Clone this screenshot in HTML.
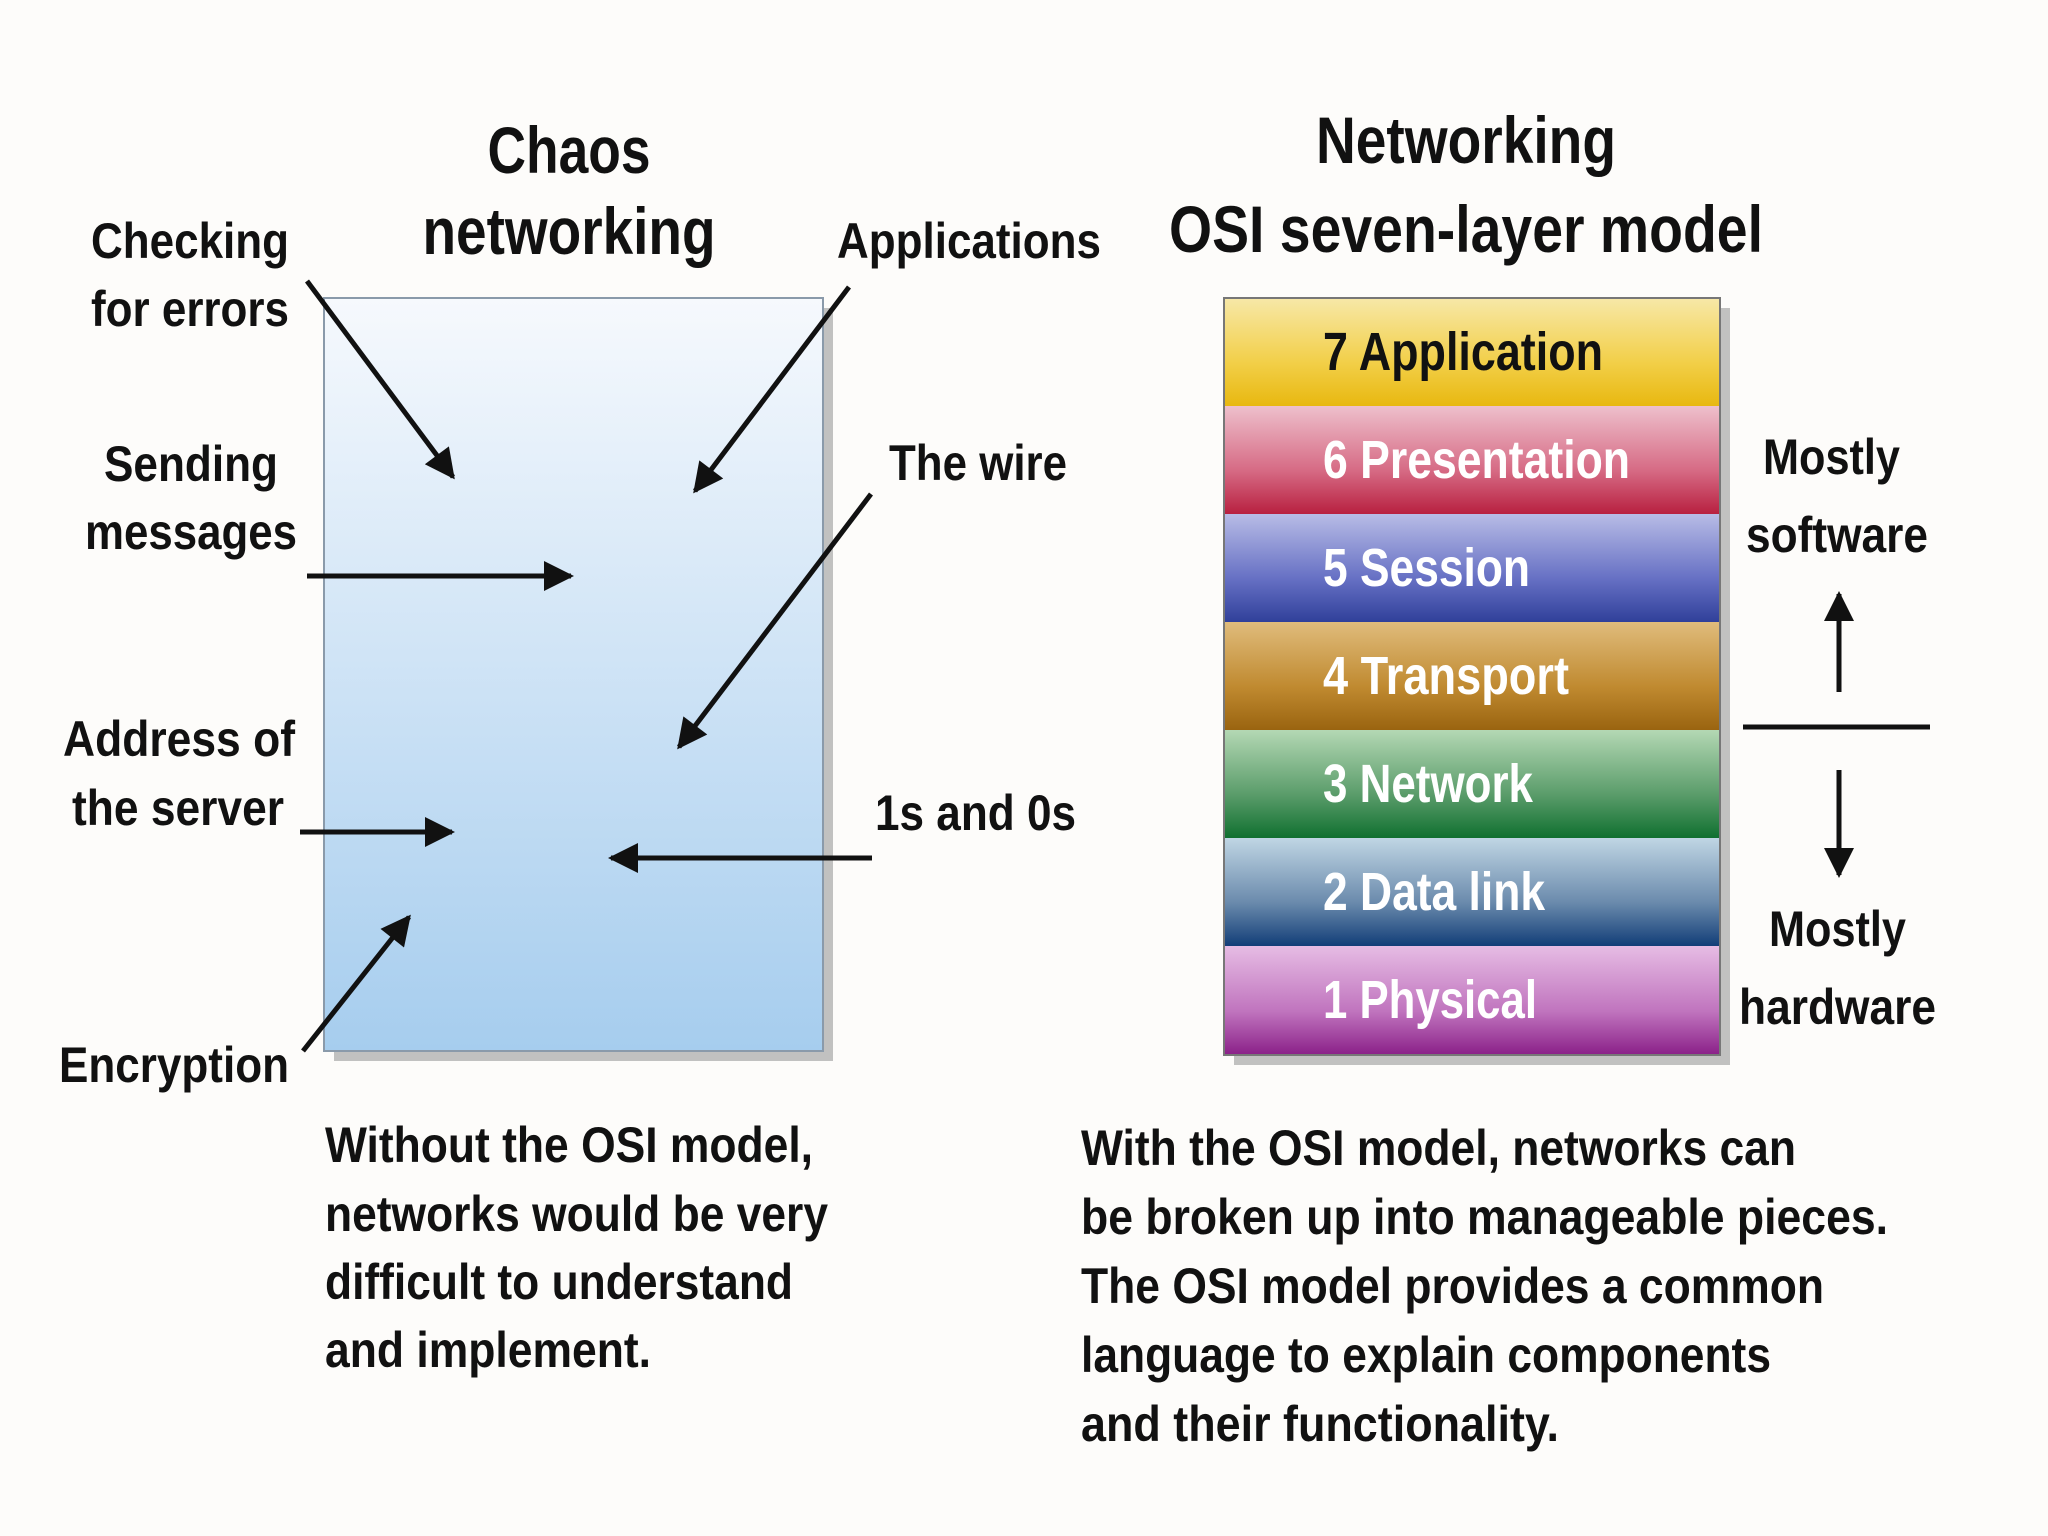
<!DOCTYPE html>
<html><head><meta charset="utf-8"><style>
html,body{margin:0;padding:0;background:#fdfcfa;}
svg{display:block;}
text{font-family:"Liberation Sans Narrow","Liberation Sans",sans-serif;font-weight:bold;fill:#111;}
</style></head><body>
<svg width="2048" height="1536" viewBox="0 0 2048 1536" xmlns="http://www.w3.org/2000/svg">
<defs>
<linearGradient id="box" x1="0" y1="0" x2="0" y2="1"><stop offset="0" stop-color="#f6f9fd"/><stop offset="1" stop-color="#a6cdee"/></linearGradient>
<linearGradient id="g7" x1="0" y1="0" x2="0" y2="1"><stop offset="0" stop-color="#f7e8a8"/><stop offset="0.6" stop-color="#f2cf48"/><stop offset="1" stop-color="#e8b810"/></linearGradient>
<linearGradient id="g6" x1="0" y1="0" x2="0" y2="1"><stop offset="0" stop-color="#eec0cc"/><stop offset="0.6" stop-color="#d66a84"/><stop offset="1" stop-color="#b82040"/></linearGradient>
<linearGradient id="g5" x1="0" y1="0" x2="0" y2="1"><stop offset="0" stop-color="#b8bce6"/><stop offset="0.6" stop-color="#6670c4"/><stop offset="1" stop-color="#30409a"/></linearGradient>
<linearGradient id="g4" x1="0" y1="0" x2="0" y2="1"><stop offset="0" stop-color="#e0bc7c"/><stop offset="0.6" stop-color="#c08a30"/><stop offset="1" stop-color="#9a6410"/></linearGradient>
<linearGradient id="g3" x1="0" y1="0" x2="0" y2="1"><stop offset="0" stop-color="#b4d8b4"/><stop offset="0.6" stop-color="#5a9c6a"/><stop offset="1" stop-color="#107030"/></linearGradient>
<linearGradient id="g2" x1="0" y1="0" x2="0" y2="1"><stop offset="0" stop-color="#c0d6e4"/><stop offset="0.6" stop-color="#6a8aac"/><stop offset="1" stop-color="#123e78"/></linearGradient>
<linearGradient id="g1" x1="0" y1="0" x2="0" y2="1"><stop offset="0" stop-color="#e6bce4"/><stop offset="0.6" stop-color="#c074be"/><stop offset="1" stop-color="#8a2088"/></linearGradient>
<marker id="ah" viewBox="0 0 10 10" refX="9" refY="5" markerWidth="7" markerHeight="6" orient="auto" markerUnits="strokeWidth"><path d="M0,0 L10,5 L0,10 z" fill="#111"/></marker>
</defs>

<rect x="334" y="308" width="499" height="753" fill="#9a9a9a" opacity="0.6"/>
<rect x="324" y="298" width="499" height="753" fill="url(#box)" stroke="#8a9aaa" stroke-width="2"/>

<rect x="1234" y="308" width="496" height="757" fill="#9a9a9a" opacity="0.6"/>
<rect x="1224" y="298" width="496" height="108" fill="url(#g7)"/>
<rect x="1224" y="406" width="496" height="108" fill="url(#g6)"/>
<rect x="1224" y="514" width="496" height="108" fill="url(#g5)"/>
<rect x="1224" y="622" width="496" height="108" fill="url(#g4)"/>
<rect x="1224" y="730" width="496" height="108" fill="url(#g3)"/>
<rect x="1224" y="838" width="496" height="108" fill="url(#g2)"/>
<rect x="1224" y="946" width="496" height="109" fill="url(#g1)"/>
<rect x="1224" y="298" width="496" height="757" fill="none" stroke="#777" stroke-width="2"/>

<g font-size="54">
<text x="1323" y="370" textLength="280" lengthAdjust="spacingAndGlyphs">7 Application</text>
<text x="1323" y="478" textLength="307" lengthAdjust="spacingAndGlyphs" style="fill:#fff">6 Presentation</text>
<text x="1323" y="586" textLength="207" lengthAdjust="spacingAndGlyphs" style="fill:#fff">5 Session</text>
<text x="1323" y="694" textLength="246" lengthAdjust="spacingAndGlyphs" style="fill:#fff">4 Transport</text>
<text x="1323" y="802" textLength="210" lengthAdjust="spacingAndGlyphs" style="fill:#fff">3 Network</text>
<text x="1323" y="910" textLength="222" lengthAdjust="spacingAndGlyphs" style="fill:#fff">2 Data link</text>
<text x="1323" y="1018" textLength="214" lengthAdjust="spacingAndGlyphs" style="fill:#fff">1 Physical</text>
</g>

<g font-size="66" text-anchor="middle">
<text x="569" y="173" textLength="163" lengthAdjust="spacingAndGlyphs">Chaos</text>
<text x="569" y="254" textLength="293" lengthAdjust="spacingAndGlyphs">networking</text>
<text x="1466" y="163" textLength="300" lengthAdjust="spacingAndGlyphs">Networking</text>
<text x="1466" y="252" textLength="594" lengthAdjust="spacingAndGlyphs">OSI seven-layer model</text>
</g>

<g font-size="50">
<text x="91" y="258" textLength="198" lengthAdjust="spacingAndGlyphs">Checking</text>
<text x="91" y="326" textLength="198" lengthAdjust="spacingAndGlyphs">for errors</text>
<text x="837" y="258" textLength="264" lengthAdjust="spacingAndGlyphs">Applications</text>
<text x="104" y="481" textLength="174" lengthAdjust="spacingAndGlyphs">Sending</text>
<text x="85" y="549" textLength="212" lengthAdjust="spacingAndGlyphs">messages</text>
<text x="889" y="480" textLength="178" lengthAdjust="spacingAndGlyphs">The wire</text>
<text x="63" y="756" textLength="232" lengthAdjust="spacingAndGlyphs">Address of</text>
<text x="72" y="825" textLength="212" lengthAdjust="spacingAndGlyphs">the server</text>
<text x="875" y="830" textLength="201" lengthAdjust="spacingAndGlyphs">1s and 0s</text>
<text x="59" y="1082" textLength="230" lengthAdjust="spacingAndGlyphs">Encryption</text>
<text x="1763" y="474" textLength="137" lengthAdjust="spacingAndGlyphs">Mostly</text>
<text x="1746" y="552" textLength="182" lengthAdjust="spacingAndGlyphs">software</text>
<text x="1769" y="946" textLength="137" lengthAdjust="spacingAndGlyphs">Mostly</text>
<text x="1739" y="1024" textLength="197" lengthAdjust="spacingAndGlyphs">hardware</text>
</g>

<g stroke="#111" stroke-width="5" fill="none" marker-end="url(#ah)">
<line x1="307" y1="281" x2="453" y2="477"/>
<line x1="849" y1="287" x2="695" y2="491"/>
<line x1="307" y1="576" x2="571" y2="576"/>
<line x1="871" y1="494" x2="679" y2="747"/>
<line x1="300" y1="832" x2="452" y2="832"/>
<line x1="872" y1="858" x2="611" y2="858"/>
<line x1="303" y1="1051" x2="409" y2="917"/>
<line x1="1839" y1="692" x2="1839" y2="594"/>
<line x1="1839" y1="770" x2="1839" y2="875"/>
</g>
<line x1="1743" y1="727" x2="1930" y2="727" stroke="#111" stroke-width="5"/>

<g font-size="50">
<text x="325" y="1162" textLength="488" lengthAdjust="spacingAndGlyphs">Without the OSI model,</text>
<text x="325" y="1231" textLength="503" lengthAdjust="spacingAndGlyphs">networks would be very</text>
<text x="325" y="1299" textLength="468" lengthAdjust="spacingAndGlyphs">difficult to understand</text>
<text x="325" y="1367" textLength="326" lengthAdjust="spacingAndGlyphs">and implement.</text>
<text x="1081" y="1165" textLength="715" lengthAdjust="spacingAndGlyphs">With the OSI model, networks can</text>
<text x="1081" y="1234" textLength="807" lengthAdjust="spacingAndGlyphs">be broken up into manageable pieces.</text>
<text x="1081" y="1303" textLength="743" lengthAdjust="spacingAndGlyphs">The OSI model provides a common</text>
<text x="1081" y="1372" textLength="690" lengthAdjust="spacingAndGlyphs">language to explain components</text>
<text x="1081" y="1441" textLength="478" lengthAdjust="spacingAndGlyphs">and their functionality.</text>
</g>
</svg>
</body></html>
